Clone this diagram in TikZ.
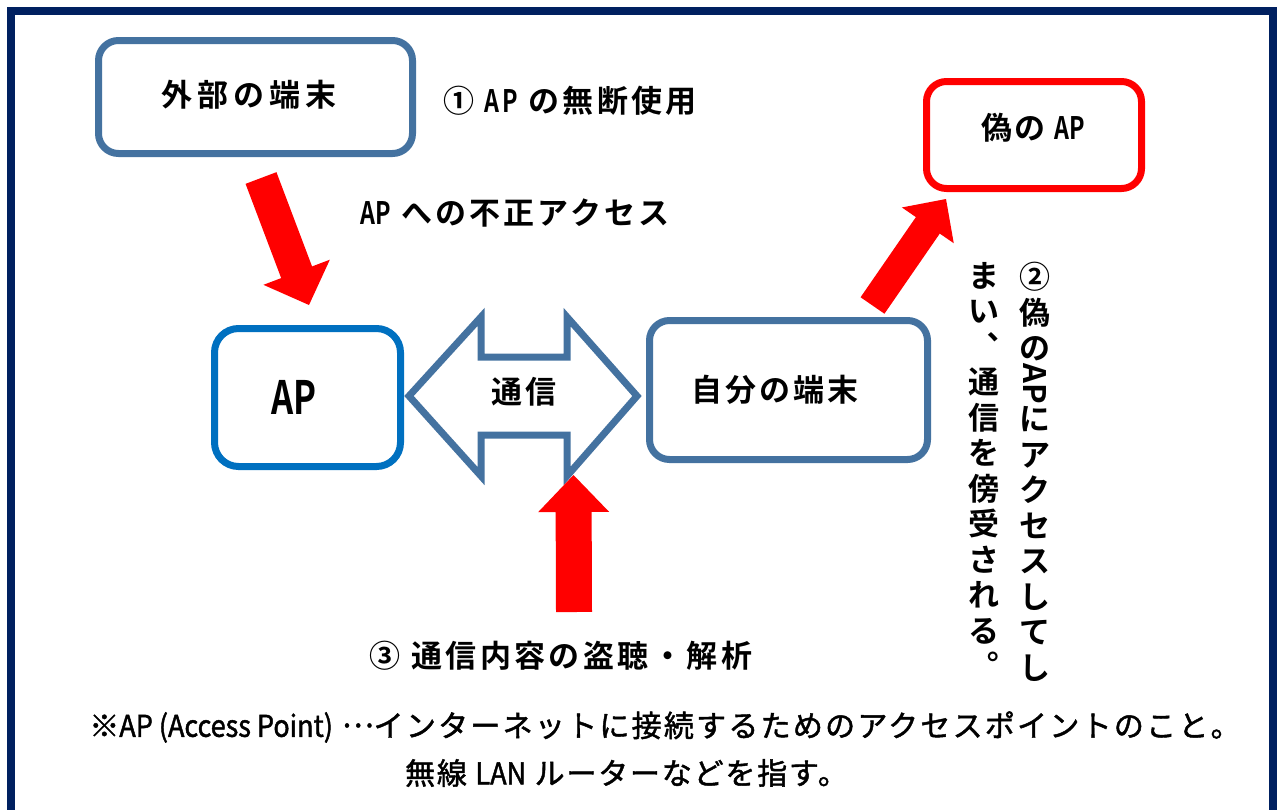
\documentclass[tikz,border=0pt]{standalone}
\usepackage{fontspec}
\usepackage{graphicx}
\setmainfont{Noto Sans CJK JP}[BoldFont={Noto Sans CJK JP Bold}]
\newfontfamily\nar{Noto Sans CJK JP}[FakeStretch=0.75,BoldFont={Noto Sans CJK JP Bold}]
\newfontfamily\notefont{Noto Sans CJK JP}[FakeBold=1.5]
\newfontfamily\notelat{Noto Sans CJK JP}[FakeBold=1.5,FakeStretch=0.9]
\usetikzlibrary{calc}
\definecolor{navy}{RGB}{0,32,96}
\definecolor{steel}{RGB}{68,114,160}
\definecolor{apblue}{RGB}{0,112,192}
\definecolor{arrowred}{RGB}{255,0,0}
\newcommand\redarrow[5]{%
  \coordinate (#1-hb) at ($(#2)!#5!(#1)$);
  \fill[arrowred] ($(#1)!#3!90:(#2)$) -- ($(#1-hb)!#3!-90:(#1)$) -- ($(#1-hb)!#4!-90:(#1)$) -- (#2)
    -- ($(#1-hb)!#4!90:(#1)$) -- ($(#1-hb)!#3!90:(#1)$) -- ($(#1)!#3!-90:(#2)$) -- cycle;}
\begin{document}
\begin{tikzpicture}[x=1pt,y=-1pt,
  box/.style={draw, line width=7pt, rounded corners=20pt, fill=white, inner sep=0pt},
  lbl/.style={font=\fontsize{31}{36}\selectfont\bfseries, inner sep=0pt},
  note/.style={font=\fontsize{30}{34}\selectfont\notefont, inner sep=0pt},
  vcol/.style={font=\fontsize{31}{35.5}\selectfont\bfseries, inner sep=0pt, align=center, anchor=north},
  dbl/.style={draw=steel, line width=7pt, fill=white, line join=miter, miter limit=10}
]
\useasboundingbox (0,0) rectangle (1279,809);
\fill[white] (0,0) rectangle (1279,809);
\clip (0,0) rectangle (1279,809);
\draw[navy, line width=8pt] (11,11) rectangle (1273,840);

% boxes
\node[box, draw=steel, minimum width=314pt, minimum height=113pt] (ext) at (255.5,97) {};
\node[lbl] (extT) at (249,95) {\addfontfeature{LetterSpace=16}外部の端末};

\node[box, draw=apblue, minimum width=186pt, minimum height=138pt, rounded corners=24pt] (ap) at (307.5,397.5) {};
\node[lbl, font=\fontsize{46}{50}\selectfont\bfseries] (apT) at (294,397) {\nar AP};

\node[box, draw=steel, minimum width=278pt, minimum height=139pt] (mine) at (788.5,390) {};
\node[lbl] (mineT) at (775,390) {\addfontfeature{LetterSpace=9}自分の端末};

\node[box, draw=arrowred, minimum width=215pt, minimum height=107pt] (fake) at (1034,135) {};
\node[lbl] (fakeT) at (1033,128) {\addfontfeature{LetterSpace=6}偽の {\nar AP}};

% double arrow between AP and own terminal
\coordinate (dl) at ($(ap.east)+(5,-1.5)$);
\coordinate (dr) at ($(mine.west)+(-9,6)$);
\draw[dbl] (dl) -- ++(72,-79) -- ++(0,40) -- ($(dr)+(-70,-39)$) -- ++(0,-40) -- (dr)
  -- ++(-70,80) -- ++(0,-41) -- ($(dl)+(72,39)$) -- ++(0,41) -- cycle;
\node[lbl] (comm) at (524,392) {\addfontfeature{LetterSpace=10}通信};

% red block arrows
\coordinate (a1s) at (261,178);
\coordinate (a1e) at (309,305);
\redarrow{a1s}{a1e}{16.5pt}{35.5pt}{35pt}
\coordinate (a2s) at (872.5,305.5);
\coordinate (a2e) at (946,199);
\redarrow{a2s}{a2e}{14.5pt}{31.5pt}{32pt}
\coordinate (a3s) at (574,612);
\coordinate (a3e) at (573.5,475);
\redarrow{a3s}{a3e}{18pt}{35.5pt}{37pt}

% labels
\node[lbl] (t1) at (570,101) {\addfontfeature{LetterSpace=11}① {\nar\addfontfeature{LetterSpace=9}AP} の無断使用};
\node[lbl] (t2) at (515,213) {\addfontfeature{LetterSpace=10}{\nar AP} への不正アクセス};
\node[lbl] (t3) at (561,656) {\addfontfeature{LetterSpace=11}③ 通信内容の盗聴・解析};

\node[vcol] (v1) at (1035,262) {②\\偽\\の\\\smash{\rotatebox[origin=c]{-90}{AP}}\\に\\ア\\ク\\セ\\ス\\し\\て\\し};
\node[vcol] (v2) at (984,262) {ま\\い\\︑\\通\\信\\を\\傍\\受\\さ\\れ\\る\\︒};

\node[note] (n1) at (665,727) {\addfontfeature{LetterSpace=7.5}※{\notelat AP (Access Point)} \raisebox{0.32em}{…}インターネットに接続するためのアクセスポイントのこと。};
\node[note] (n2) at (626.5,773) {\addfontfeature{LetterSpace=6}無線 {\notelat LAN} ルーターなどを指す。};
\end{tikzpicture}
\end{document}
